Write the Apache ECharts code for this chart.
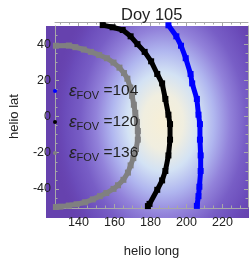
<!DOCTYPE html>
<html><head><meta charset="utf-8">
<script src="https://cdn.jsdelivr.net/npm/echarts@6/dist/echarts.min.js"></script>
<style>html,body{margin:0;padding:0;background:#fff}#c{width:249px;height:263px}</style>
</head><body><div id="c"></div>
<script>
const titleText = 'Doy 105';
const xName = 'helio long';
const yName = 'helio lat';
const xRange = [127, 234.2];
const yRange = [-50, 50];
const xTickLabels = [140, 160, 180, 200, 220];
const yTickLabels = [-40, -20, 0, 20, 40];
const xMinorTicks = [130,135,145,150,155,165,170,175,185,190,195,205,210,215,225,230];
const yMinorTicks = [-45,-35,-30,-25,-15,-10,-5,5,10,15,25,30,35,45];
const seriesNames = ['104', '120', '136'];
const seriesColors = ['#0000ff', '#000000', '#808080'];
const blue104 = [[190,50.4],[194.4,44.3],[197,39.1],[199.6,32.2],[202.3,23.5],[203.2,18.3],[205.8,9.7],[206.7,1],[207.5,-4.2],[207.5,-12.8],[207.9,-21.5],[207.9,-30.1],[207.2,-38.8],[206.7,-44],[205.8,-49.4]];
const black120 = [[153.5,50.5],[159,49.3],[164.6,47.8],[169,44.3],[172.8,40],[176.8,35.7],[180.4,30.5],[183.8,23.5],[186.5,18.3],[188.3,9.7],[190,1],[190.9,-4.2],[190.9,-12.8],[190,-21.5],[188.3,-30.1],[186.5,-35.3],[183.8,-40.5],[179.5,-48.3],[178.6,-49.5]];
const gray136 = [[127.5,39.1],[134.7,39.2],[138.3,38.3],[143,37],[147,35.7],[151.5,34],[155.8,32.2],[159.5,29.8],[162.8,27],[165.3,24],[167.2,20.9],[168.8,16],[169.8,11.4],[170.8,6.5],[171.6,2],[172.5,-3],[173,-8],[173,-12.8],[172,-18],[170.5,-23],[169,-27],[167.5,-31],[165,-35],[162,-38],[159.5,-40],[155.5,-42.3],[152,-44],[148,-45.8],[143.7,-47.4],[139,-48.5],[134.7,-49.2],[130,-49.8],[127.5,-50]];
const seriesData = [blue104, black120, gray136];

const FONT = '"Liberation Sans", Arial, sans-serif';
const frameColor = '#a8a8a8';
const G = {left: 46, top: 26, width: 202, height: 192};

function mkX(pos, offset, labels, ticks, len, showLine) {
  return {type: 'value', position: pos, offset: offset, min: xRange[0], max: xRange[1],
    axisLine: {show: showLine, onZero: false, lineStyle: {color: frameColor, width: 1}},
    axisTick: {show: true, inside: true, length: len, customValues: ticks, lineStyle: {color: frameColor}},
    axisLabel: labels ? {show: true, customValues: labels, margin: 8, color: '#222', fontSize: 12.5, fontFamily: FONT} : {show: false},
    splitLine: {show: false}};
}
function mkY(pos, offset, labels, ticks, len, showLine) {
  return {type: 'value', position: pos, offset: offset, min: yRange[0], max: yRange[1],
    axisLine: {show: showLine, onZero: false, lineStyle: {color: frameColor, width: 1}},
    axisTick: {show: true, inside: true, length: len, customValues: ticks, lineStyle: {color: frameColor}},
    axisLabel: labels ? {show: true, customValues: labels, margin: 4, color: '#222', fontSize: 12.5, fontFamily: FONT} : {show: false},
    splitLine: {show: false}};
}

const xAxes = [
  Object.assign(mkX('bottom', 1, xTickLabels, xTickLabels, 4, true), {name: xName, nameLocation: 'middle', nameGap: 37, nameTextStyle: {color: '#222', fontSize: 13, fontFamily: FONT}}),
  mkX('bottom', 1, null, xMinorTicks, 2.5, false),
  mkX('top', 4, null, xTickLabels, 4, true),
  mkX('top', 4, null, xMinorTicks, 2.5, false)
];
const yAxes = [
  Object.assign(mkY('left', 0, yTickLabels, yTickLabels, 4, true), {name: yName, nameLocation: 'middle', nameGap: 34, nameTextStyle: {color: '#222', fontSize: 13, fontFamily: FONT}}),
  mkY('left', 0, null, yMinorTicks, 2.5, false),
  mkY('right', 0, null, yTickLabels, 4, true),
  mkY('right', 0, null, yMinorTicks, 2.5, false)
];

const series = seriesNames.map((n, i) => ({
  name: n, type: 'line', xAxisIndex: 0, yAxisIndex: 0, data: seriesData[i],
  color: seriesColors[i], clip: false, smooth: false,
  symbol: 'rect', symbolSize: 6, showSymbol: true,
  lineStyle: {width: 5, color: seriesColors[i]},
  itemStyle: {color: seriesColors[i]}, z: 3
}));

const glow = {type: 'radial', x: 0.5, y: 0.5, r: 0.5, colorStops: [
  {offset: 0, color: '#f7efd6'}, {offset: 0.18, color: '#f0eee0'}, {offset: 0.32, color: '#d3e2f4'},
  {offset: 0.46, color: '#b0b6ef'}, {offset: 0.6, color: '#9282da'}, {offset: 0.74, color: '#785ec6'},
  {offset: 0.88, color: '#6b4cba'}, {offset: 1, color: 'rgba(104,68,178,0)'}]};

const chart = echarts.init(document.getElementById('c'), null, {renderer: 'canvas'});
chart.setOption({
  animation: false,
  backgroundColor: '#ffffff',
  title: {text: titleText, left: 116, top: 2, textStyle: {color: '#222', fontSize: 16.5, fontWeight: 'normal', fontFamily: FONT}},
  grid: G,
  xAxis: xAxes,
  yAxis: yAxes,
  legend: {
    orient: 'vertical', left: 53, top: 81, padding: 0, itemGap: 11, itemWidth: 4, itemHeight: 4, icon: 'circle',
    data: seriesNames,
    formatter: n => '{e|ε}{s|FOV}{n| =' + n + '}',
    textStyle: {color: '#222', fontFamily: FONT, lineHeight: 20, rich: {
      e: {fontSize: 17, fontStyle: 'italic', fontFamily: FONT, color: '#222', padding: [0, 0, 0, 7], lineHeight: 20},
      s: {fontSize: 11, fontFamily: FONT, color: '#222', verticalAlign: 'bottom', lineHeight: 13},
      n: {fontSize: 15.5, fontFamily: FONT, color: '#222', lineHeight: 20}
    }}
  },
  graphic: [
    {type: 'rect', z: -30, shape: {x: G.left, y: G.top, width: G.width + 2, height: G.height}, style: {fill: '#6642ae'}, silent: true},
    {type: 'circle', z: -20, x: 163, y: 122, scaleX: 0.72, scaleY: 1, shape: {cx: 0, cy: 0, r: 155}, style: {fill: glow}, silent: true},
    {type: 'rect', z: -10, shape: {x: 0, y: 0, width: 249, height: G.top}, style: {fill: '#fff'}, silent: true},
    {type: 'rect', z: -10, shape: {x: 0, y: G.top + G.height, width: 249, height: 263 - G.top - G.height}, style: {fill: '#fff'}, silent: true},
    {type: 'rect', z: -10, shape: {x: 0, y: 0, width: G.left, height: 263}, style: {fill: '#fff'}, silent: true}
  ],
  series: series
});
</script></body></html>
